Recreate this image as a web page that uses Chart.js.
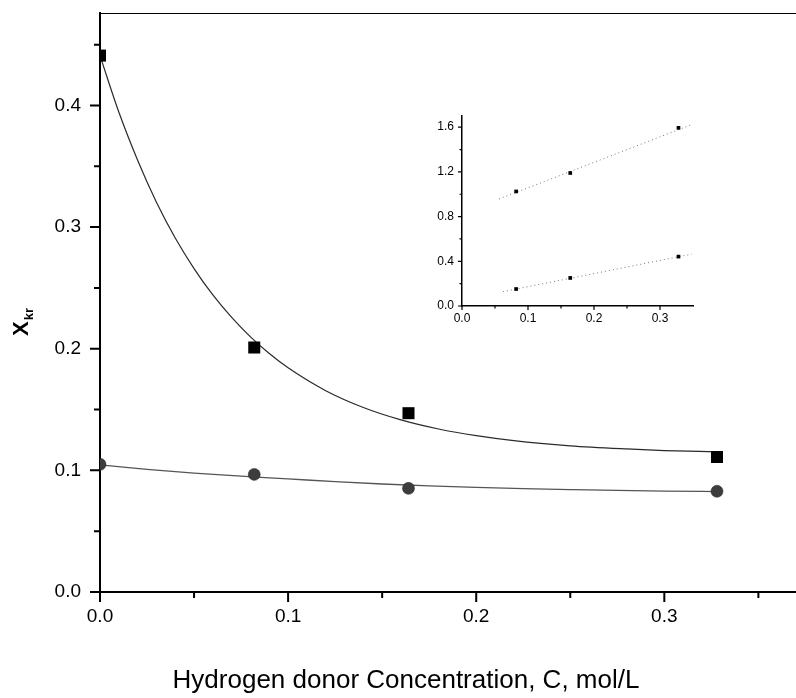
<!DOCTYPE html>
<html>
<head>
<meta charset="utf-8">
<script src="https://cdn.jsdelivr.net/npm/chart.js@4/dist/chart.umd.min.js"></script>
<style>
  html, body { margin: 0; padding: 0; background: #fff; }
  #wrap { position: relative; width: 796px; height: 698px; }
  #mainChart { position: absolute; left: 0; top: 0; }
  #insetChart { position: absolute; left: 420px; top: 105px; }
</style>
</head>
<body>
<div id="wrap">
  <canvas id="mainChart" width="796" height="698"></canvas>
  <canvas id="insetChart" width="280" height="230"></canvas>
</div>
<script>
// === DATA ===
// hydrogen donor concentration, mol/L
const conc = [0, 0.082, 0.164, 0.328];
const xkrHigh = [0.441, 0.201, 0.147, 0.111];
const xkrLow = [0.105, 0.0967, 0.0852, 0.0828];

// fitted curves
const fitHighX = [0, 0.01, 0.02, 0.03, 0.04, 0.05, 0.06, 0.07, 0.08, 0.09, 0.1, 0.12, 0.14, 0.16, 0.18, 0.2, 0.22, 0.25, 0.28, 0.3, 0.328];
const fitHighY = [0.441, 0.3946, 0.355, 0.3205, 0.291, 0.2659, 0.2442, 0.2257, 0.2097, 0.196, 0.1843, 0.1655, 0.1517, 0.1415, 0.134, 0.1285, 0.1244, 0.1202, 0.1176, 0.1163, 0.1152];
const fitLowX = [0, 0.025, 0.05, 0.075, 0.1, 0.125, 0.15, 0.175, 0.2, 0.225, 0.25, 0.275, 0.3, 0.328];
const fitLowY = [0.1045, 0.1008, 0.0978, 0.0952, 0.093, 0.0907, 0.0888, 0.0872, 0.086, 0.085, 0.0842, 0.0835, 0.083, 0.0826];

const xTicks = [0, 0.1, 0.2, 0.3];
const xMinor = [0.05, 0.15, 0.25, 0.35];
const yTicks = [0, 0.1, 0.2, 0.3, 0.4];
const yMinor = [0.05, 0.15, 0.25, 0.35, 0.45];

// inset: linearised plot
const insetConc = [0.082, 0.164, 0.328];
const insetHigh = [1.025, 1.19, 1.594];
const insetLow = [0.152, 0.251, 0.442];
const insetFitHighX = [0.056, 0.348];
const insetFitHighY = [0.957, 1.623];
const insetFitLowX = [0.062, 0.348];
const insetFitLowY = [0.128, 0.464];
const insetXTicks = [0, 0.1, 0.2, 0.3];
const insetXMinor = [0.05, 0.15, 0.25];
const insetYTicks = [0, 0.4, 0.8, 1.2, 1.6];
const insetYMinor = [0.2, 0.6, 1.0, 1.4];

const FONT = '"Liberation Sans", Arial, Helvetica, sans-serif';

const pts = (xs, ys) => xs.map((x, i) => ({ x, y: ys[i] }));

// fixed axis box; drop the label overhang padding chart.js adds
const fixBox = (w, h) => s => {
  if (w !== null) s.width = w;
  if (h !== null) s.height = h;
  s.paddingTop = s.paddingBottom = s.paddingLeft = s.paddingRight = 0;
};

// === PLUGINS ===
// major/minor tick marks outside the axes, plus optional top frame line
const tickMarks = {
  id: 'tickMarks',
  afterDraw(chart, args, o) {
    const { ctx, chartArea: a, scales: { x, y } } = chart;
    ctx.save();
    ctx.strokeStyle = '#000';
    ctx.lineWidth = o.width;
    ctx.beginPath();
    const xs = (vals, len) => vals.forEach(v => {
      const p = x.getPixelForValue(v);
      ctx.moveTo(p, a.bottom);
      ctx.lineTo(p, a.bottom + len);
    });
    const ys = (vals, len) => vals.forEach(v => {
      const p = y.getPixelForValue(v);
      ctx.moveTo(a.left, p);
      ctx.lineTo(a.left - len, p);
    });
    xs(o.xMajor, o.major);
    xs(o.xMinor, o.minor);
    ys(o.yMajor, o.major);
    ys(o.yMinor, o.minor);
    ctx.stroke();
    if (o.frameTop) {
      ctx.lineWidth = 1;
      ctx.beginPath();
      ctx.moveTo(a.left, a.top + 0.5);
      ctx.lineTo(a.right, a.top + 0.5);
      ctx.stroke();
    }
    ctx.restore();
  }
};

// axis titles (y title has a subscript)
const axisTitles = {
  id: 'axisTitles',
  afterDraw(chart) {
    const { ctx } = chart;
    ctx.save();
    ctx.fillStyle = '#000';
    ctx.textBaseline = 'middle';
    ctx.textAlign = 'center';
    ctx.font = '26px ' + FONT;
    ctx.fillText('Hydrogen donor Concentration, C, mol/L', 406, 681);

    ctx.translate(28, 336);
    ctx.rotate(-Math.PI / 2);
    ctx.textAlign = 'left';
    ctx.textBaseline = 'alphabetic';
    ctx.font = 'bold 22px ' + FONT;
    ctx.fillText('X', 0, 0);
    const w = ctx.measureText('X').width;
    ctx.font = 'bold 13px ' + FONT;
    ctx.fillText('kr', w + 1, 5);
    ctx.restore();
  }
};

// === MAIN CHART ===
new Chart(document.getElementById('mainChart'), {
  type: 'scatter',
  data: {
    datasets: [
      {
        data: pts(conc, xkrHigh),
        pointStyle: 'rect',
        pointRadius: 8.5,
        backgroundColor: '#000',
        borderWidth: 0,
        clip: 0,
        order: 0
      },
      {
        data: pts(conc, xkrLow),
        pointStyle: 'circle',
        pointRadius: 6,
        backgroundColor: '#3d3d3d',
        borderColor: '#222',
        borderWidth: 0.5,
        clip: 0,
        order: 0
      },
      {
        data: pts(fitHighX, fitHighY),
        showLine: true,
        pointRadius: 0,
        borderColor: '#2a2a2a',
        borderWidth: 1.2,
        cubicInterpolationMode: 'monotone',
        order: 1
      },
      {
        data: pts(fitLowX, fitLowY),
        showLine: true,
        pointRadius: 0,
        borderColor: '#555',
        borderWidth: 1.3,
        cubicInterpolationMode: 'monotone',
        order: 1
      }
    ]
  },
  options: {
    responsive: false,
    animation: false,
    layout: { autoPadding: false, padding: { top: 13, right: 0, left: 0, bottom: 0 } },
    plugins: {
      legend: { display: false },
      tooltip: { enabled: false },
      tickMarks: { width: 2, major: 10, minor: 6, xMajor: xTicks, xMinor: xMinor, yMajor: yTicks, yMinor: yMinor, frameTop: true }
    },
    scales: {
      x: {
        type: 'linear',
        min: 0,
        max: 0.37,
        afterBuildTicks: s => { s.ticks = xTicks.map(v => ({ value: v })); },
        afterFit: fixBox(null, 106),
        ticks: { callback: v => v.toFixed(1), color: '#000', font: { family: FONT, size: 19 }, padding: 3, maxRotation: 0 },
        grid: { drawOnChartArea: false, drawTicks: true, tickLength: 10, tickColor: 'rgba(0,0,0,0)' },
        border: { color: '#000', width: 2 }
      },
      y: {
        type: 'linear',
        min: 0,
        max: 0.476,
        afterBuildTicks: s => { s.ticks = yTicks.map(v => ({ value: v })); },
        afterFit: fixBox(100, null),
        ticks: { callback: v => v.toFixed(1), color: '#000', font: { family: FONT, size: 19 }, padding: 9 },
        grid: { drawOnChartArea: false, drawTicks: true, tickLength: 10, tickColor: 'rgba(0,0,0,0)' },
        border: { color: '#000', width: 2 }
      }
    }
  },
  plugins: [tickMarks, axisTitles]
});

// === INSET CHART ===
new Chart(document.getElementById('insetChart'), {
  type: 'scatter',
  data: {
    datasets: [
      {
        data: pts(insetConc, insetHigh),
        pointStyle: 'rect',
        pointRadius: 2.6,
        backgroundColor: '#000',
        borderWidth: 0,
        order: 0
      },
      {
        data: pts(insetConc, insetLow),
        pointStyle: 'rect',
        pointRadius: 2.6,
        backgroundColor: '#000',
        borderWidth: 0,
        order: 0
      },
      {
        data: pts(insetFitHighX, insetFitHighY),
        showLine: true,
        pointRadius: 0,
        borderColor: '#777',
        borderWidth: 1,
        borderDash: [1, 3],
        order: 1
      },
      {
        data: pts(insetFitLowX, insetFitLowY),
        showLine: true,
        pointRadius: 0,
        borderColor: '#777',
        borderWidth: 1,
        borderDash: [1, 3],
        order: 1
      }
    ]
  },
  options: {
    responsive: false,
    animation: false,
    layout: { autoPadding: false, padding: { top: 11, right: 7, left: 0, bottom: 0 } },
    plugins: {
      legend: { display: false },
      tooltip: { enabled: false },
      tickMarks: { width: 1.2, major: 4, minor: 2.5, xMajor: insetXTicks, xMinor: insetXMinor, yMajor: insetYTicks, yMinor: insetYMinor, frameTop: false }
    },
    scales: {
      x: {
        type: 'linear',
        min: 0,
        max: 0.35,
        afterBuildTicks: s => { s.ticks = insetXTicks.map(v => ({ value: v })); },
        afterFit: fixBox(null, 29),
        ticks: { callback: v => v.toFixed(1), color: '#000', font: { family: FONT, size: 12 }, padding: 1, maxRotation: 0 },
        grid: { drawOnChartArea: false, drawTicks: true, tickLength: 4, tickColor: 'rgba(0,0,0,0)' },
        border: { color: '#000', width: 1.5 }
      },
      y: {
        type: 'linear',
        min: 0,
        max: 1.7,
        afterBuildTicks: s => { s.ticks = insetYTicks.map(v => ({ value: v })); },
        afterFit: fixBox(42, null),
        ticks: { callback: v => v.toFixed(1), color: '#000', font: { family: FONT, size: 12 }, padding: 4 },
        grid: { drawOnChartArea: false, drawTicks: true, tickLength: 4, tickColor: 'rgba(0,0,0,0)' },
        border: { color: '#000', width: 1.5 }
      }
    }
  },
  plugins: [tickMarks]
});
</script>
</body>
</html>
